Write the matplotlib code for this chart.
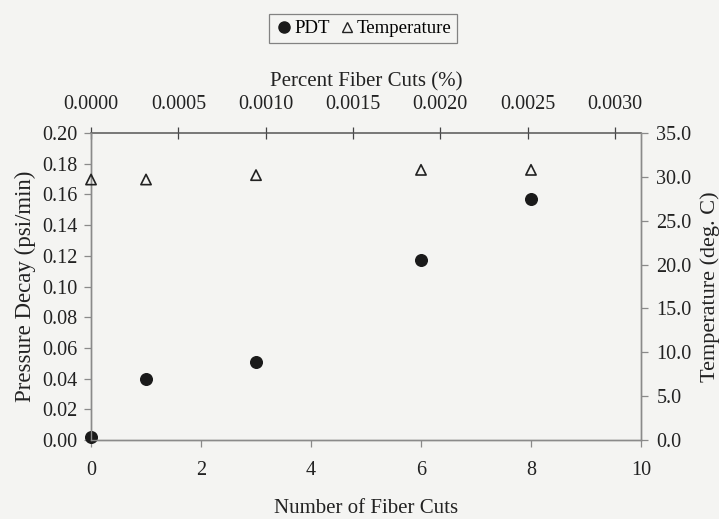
import matplotlib
matplotlib.use("Agg")
import matplotlib.pyplot as plt
from matplotlib.ticker import FormatStrFormatter, MultipleLocator
from matplotlib.lines import Line2D

plt.rcParams['font.family'] = ['Liberation Serif', 'DejaVu Serif']
plt.rcParams['font.size'] = 14.5

# Data
cuts = [0, 1, 3, 6, 8]
pdt = [0.002, 0.040, 0.051, 0.117, 0.157]
temperature = [29.7, 29.7, 30.2, 30.8, 30.8]
pct_per_cut = 0.000315  # percent fiber cuts per cut (top axis scale)
top_ticks = [0.0000, 0.0005, 0.0010, 0.0015, 0.0020, 0.0025, 0.0030]

bg = '#f4f4f2'
spine_c = '#8a8a8a'
txt_c = '#222222'

fig = plt.figure(figsize=(7.19, 5.19), dpi=100, facecolor=bg)
ax = fig.add_axes([0.1266, 0.1522, 0.7649, 0.5915], facecolor=bg)

ax.scatter(cuts, pdt, s=70, color='#1a1a1a', marker='o', zorder=3, clip_on=False)
ax.set_xlim(0, 10)
ax.set_ylim(0, 0.20)
ax.xaxis.set_major_locator(MultipleLocator(2))
ax.yaxis.set_major_locator(MultipleLocator(0.02))
ax.yaxis.set_major_formatter(FormatStrFormatter('%.2f'))
ax.set_xlabel('Number of Fiber Cuts', labelpad=14, color=txt_c, fontsize=15)
ax.set_ylabel('Pressure Decay (psi/min)', labelpad=4, color=txt_c, fontsize=16.5)

ax2 = ax.twinx()
ax2.scatter(cuts, temperature, s=55, marker='^', facecolor='none',
            edgecolor='#222222', linewidth=1.2, zorder=3, clip_on=False)
ax2.set_ylim(0, 35)
ax2.yaxis.set_major_locator(MultipleLocator(5))
ax2.yaxis.set_major_formatter(FormatStrFormatter('%.1f'))
ax2.set_ylabel('Temperature (deg. C)', labelpad=6, color=txt_c, fontsize=16)

top = ax.secondary_xaxis('top', functions=(lambda x: x * pct_per_cut,
                                            lambda p: p / pct_per_cut))
top.set_xticks(top_ticks)
top.xaxis.set_major_formatter(FormatStrFormatter('%.4f'))
top.set_xlabel('Percent Fiber Cuts (%)', labelpad=6, color=txt_c, fontsize=15)
top.tick_params(direction='inout', length=8, width=0.9, colors='#444444',
                labelcolor=txt_c, pad=10)

for a in (ax, ax2):
    for s in a.spines.values():
        s.set_color(spine_c)
        s.set_linewidth(1.0)
ax.spines['top'].set_visible(False)
ax2.spines['top'].set_visible(False)
top.spines['top'].set_color('#555555')
top.spines['top'].set_linewidth(1.1)

ax.tick_params(axis='both', direction='out', length=5, width=0.9,
               colors=spine_c, labelcolor=txt_c)
ax.tick_params(axis='x', pad=10)
ax.tick_params(axis='y', pad=5)
ax2.tick_params(axis='y', direction='out', length=5, width=0.9,
                colors=spine_c, labelcolor=txt_c, pad=6)

handles = [Line2D([], [], marker='o', linestyle='none', color='#1a1a1a', markersize=8),
           Line2D([], [], marker='^', linestyle='none', markerfacecolor='none',
                  markeredgecolor='#222222', markersize=7)]
leg = fig.legend(handles, ['PDT', 'Temperature'], loc='center',
                 bbox_to_anchor=(0.505, 0.945), ncol=2, frameon=True,
                 fancybox=False, edgecolor='#666666', facecolor=bg,
                 handletextpad=0.05, columnspacing=0.4, borderpad=0.3,
                 handlelength=1.0, fontsize=13.5)
leg.get_frame().set_linewidth(0.9)

fig.savefig('out.png', dpi=100, facecolor=bg)
